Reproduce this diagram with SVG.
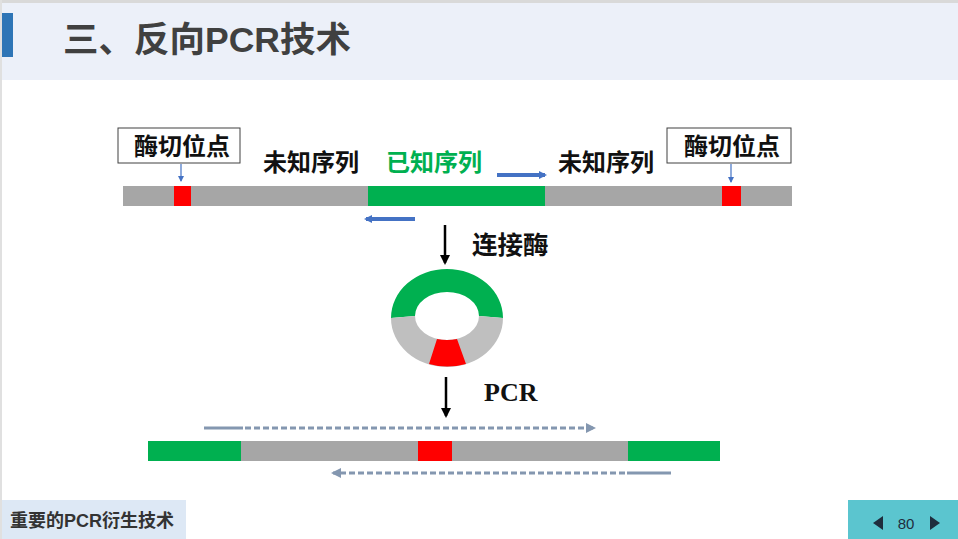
<svg xmlns="http://www.w3.org/2000/svg" width="958" height="539" viewBox="0 0 958 539">
<defs>
<style>
.cn{font-family:"Liberation Sans","Noto Sans CJK SC",sans-serif;font-weight:bold}
.lbl{font-size:24px;fill:#111}
.seg{stroke:none}
.dash{stroke:#8497b0;stroke-width:3;fill:none}
</style>
<marker id="ah" markerWidth="8" markerHeight="8" refX="6" refY="4" orient="auto" markerUnits="userSpaceOnUse"><path d="M0,0 L8,4 L0,8 z" fill="#4472c4"/></marker>
<marker id="ahk" markerWidth="10" markerHeight="10" refX="8" refY="5" orient="auto" markerUnits="userSpaceOnUse"><path d="M0,0 L10,5 L0,10 z" fill="#000"/></marker>
<marker id="ahg" markerWidth="10" markerHeight="10" refX="8" refY="5" orient="auto" markerUnits="userSpaceOnUse"><path d="M0,0 L10,5 L0,10 z" fill="#8497b0"/></marker>
<marker id="ahs" markerWidth="6" markerHeight="6" refX="5" refY="3" orient="auto" markerUnits="userSpaceOnUse"><path d="M0,0 L6,3 L0,6 z" fill="#4472c4"/></marker>
</defs>
<rect width="958" height="539" fill="#fff"/>
<rect x="0" y="0" width="958" height="3" fill="#d9d9d9"/>
<rect x="0" y="0" width="2" height="539" fill="#e0e0e0"/>
<g id="header">
<rect x="2" y="3" width="956" height="77" fill="#ecf0f9"/>
<rect x="2" y="13" width="11" height="44" fill="#2e75b6"/>
<text class="cn" x="63" y="52" font-size="35.5" fill="#404040">三、反向PCR技术</text>
</g>
<g id="bar-top">
<rect class="seg" x="123" y="186" width="669" height="20" fill="#a6a6a6"/>
<rect class="seg" x="174" y="186" width="17" height="20" fill="#ff0000"/>
<rect class="seg" x="368" y="186" width="177" height="20" fill="#00b050"/>
<rect class="seg" x="722" y="186" width="19" height="20" fill="#ff0000"/>
</g>
<g id="site-left">
<rect x="118" y="128" width="122" height="35" fill="#fff" stroke="#404040" stroke-width="1"/>
<text class="cn lbl" x="134" y="155">酶切位点</text>
</g>
<g id="site-right">
<rect x="667" y="128" width="124" height="35" fill="#fff" stroke="#404040" stroke-width="1"/>
<text class="cn lbl" x="684" y="155">酶切位点</text>
</g>
<g id="labels">
<text class="cn lbl" x="263" y="171">未知序列</text>
<text class="cn" x="386" y="171" font-size="24" fill="#00b050">已知序列</text>
<text class="cn lbl" x="558" y="171">未知序列</text>
<text class="cn" x="472" y="254" font-size="25.5" fill="#111">连接酶</text>
<text x="484" y="401" font-family="Liberation Serif,serif" font-weight="bold" font-size="26" fill="#111">PCR</text>
</g>
<g id="ring">
<path d="M391,318 A56,49 0 0 1 503,318 L479,316 A32,24 0 0 0 415,316 Z" fill="#00b050"/>
<path d="M391,318 A56,49 0 0 0 503,318 L479,316 A32,24 0 0 1 415,316 Z" fill="#bfbfbf"/>
<path d="M429,364 Q447,369 466,364 L457,339 Q447,341 437,339 Z" fill="#ff0000"/>
</g>
<g id="bar-bottom">
<rect class="seg" x="148" y="441" width="572" height="20" fill="#a6a6a6"/>
<rect class="seg" x="148" y="441" width="93" height="20" fill="#00b050"/>
<rect class="seg" x="418" y="441" width="34" height="20" fill="#ff0000"/>
<rect class="seg" x="628" y="441" width="92" height="20" fill="#00b050"/>
</g>
<g id="connectors">
<line x1="181" y1="164" x2="181" y2="181" stroke="#4472c4" stroke-width="1.2" marker-end="url(#ahs)"/>
<line x1="731" y1="164" x2="731" y2="182" stroke="#4472c4" stroke-width="1.2" marker-end="url(#ahs)"/>
<line x1="497" y1="175" x2="545" y2="175" stroke="#4472c4" stroke-width="4" marker-end="url(#ah)"/>
<line x1="415" y1="219" x2="366" y2="219" stroke="#4472c4" stroke-width="4" marker-end="url(#ah)"/>
<line x1="445" y1="225" x2="445" y2="263" stroke="#000" stroke-width="2.5" marker-end="url(#ahk)"/>
<line x1="446" y1="377" x2="446" y2="416" stroke="#000" stroke-width="2.5" marker-end="url(#ahk)"/>
<line class="dash" x1="204" y1="428" x2="243" y2="428"/>
<line class="dash" x1="245" y1="428" x2="594" y2="428" stroke-dasharray="6,3" marker-end="url(#ahg)"/>
<line class="dash" x1="671" y1="473" x2="627" y2="473"/>
<line class="dash" x1="625" y1="473" x2="333" y2="473" stroke-dasharray="6,3" marker-end="url(#ahg)"/>
</g>
<g id="footer">
<rect x="2" y="500" width="184" height="39" fill="#dde8f5"/>
<text class="cn" x="10" y="527" font-size="18" fill="#333">重要的PCR衍生技术</text>
<rect x="848" y="500" width="110" height="39" fill="#5bc5cf"/>
<path d="M883,516 L873,523 L883,530 Z" fill="#1f2d3d"/>
<text x="906" y="529" font-family="Liberation Sans,sans-serif" font-size="15" fill="#1f2d3d" text-anchor="middle">80</text>
<path d="M930,516 L940,523 L930,530 Z" fill="#1f2d3d"/>
</g>
</svg>
